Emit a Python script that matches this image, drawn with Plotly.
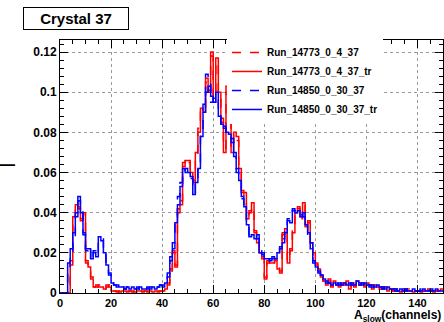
import plotly.graph_objects as go

# bin lower edges 0..149, width 1 channel
bin_edges = list(range(0, 151))

run_14773_0_4_37 = [
    0, 0, 0, 0, 0.014, 0.036, 0.045, 0.042, 0.037, 0.039,
    0.016, 0.012, 0.008, 0.003, 0.003, 0.004, 0.003, 0.002, 0.003, 0.004,
    0.001, 0.001, 0.0005, 0.001, 0.001, 0.0005, 0.001, 0.001, 0.0005, 0.001,
    0.001, 0.0005, 0.001, 0.001, 0.0005, 0.001, 0.001, 0.001, 0.0005, 0.001,
    0.001, 0.002, 0.005, 0.011, 0.021, 0.014, 0.04, 0.046, 0.063, 0.067,
    0.065, 0.061, 0.056, 0.069, 0.082, 0.09, 0.092, 0.105, 0.101, 0.118,
    0.097, 0.115, 0.098, 0.087, 0.072, 0.1, 0.095, 0.072, 0.079, 0.076,
    0.064, 0.051, 0.048, 0.038, 0.041, 0.043, 0.031, 0.026, 0.019, 0.017,
    0.008, 0.015, 0.016, 0.014, 0.017, 0.013, 0.011, 0.029, 0.031, 0.016,
    0.021, 0.031, 0.039, 0.043, 0.037, 0.044, 0.034, 0.035, 0.026, 0.019,
    0.015, 0.011, 0.009, 0.005, 0.005, 0.006, 0.004, 0.005, 0.004, 0.004,
    0.004, 0.005, 0.005, 0.003, 0.004, 0.004, 0.005, 0.004, 0.004, 0.004,
    0.004, 0.004, 0.003, 0.003, 0.003, 0.002, 0.003, 0.002, 0.002, 0.002,
    0.001, 0.001, 0.002, 0.001, 0.001, 0.001, 0.002, 0.001, 0.001, 0.001,
    0.001, 0.001, 0.001, 0.002, 0.001, 0.001, 0.001, 0.001, 0.002, 0.001,
]

run_14773_0_4_37_tr = [
    0, 0, 0, 0, 0.016, 0.038, 0.044, 0.043, 0.036, 0.04,
    0.015, 0.013, 0.007, 0.003, 0.004, 0.003, 0.003, 0.002, 0.004, 0.003,
    0.001, 0.001, 0.001, 0.0005, 0.001, 0.001, 0.0005, 0.001, 0.001, 0.0005,
    0.001, 0.001, 0.0005, 0.001, 0.001, 0.001, 0.0005, 0.001, 0.001, 0.001,
    0.001, 0.002, 0.004, 0.012, 0.02, 0.013, 0.042, 0.044, 0.065, 0.066,
    0.066, 0.06, 0.055, 0.07, 0.08, 0.092, 0.09, 0.107, 0.1, 0.12,
    0.095, 0.117, 0.1, 0.085, 0.07, 0.103, 0.093, 0.07, 0.08, 0.078,
    0.062, 0.05, 0.05, 0.037, 0.04, 0.045, 0.03, 0.025, 0.02, 0.018,
    0.007, 0.016, 0.015, 0.015, 0.016, 0.012, 0.01, 0.03, 0.032, 0.015,
    0.022, 0.03, 0.04, 0.042, 0.038, 0.045, 0.033, 0.036, 0.025, 0.02,
    0.014, 0.012, 0.008, 0.006, 0.004, 0.007, 0.003, 0.006, 0.004, 0.003,
    0.005, 0.004, 0.006, 0.002, 0.005, 0.003, 0.006, 0.004, 0.005, 0.003,
    0.005, 0.004, 0.002, 0.004, 0.003, 0.003, 0.002, 0.003, 0.001, 0.002,
    0.001, 0.002, 0.001, 0.0005, 0.001, 0.002, 0.001, 0.001, 0.0005, 0.001,
    0.001, 0.0005, 0.001, 0.001, 0.002, 0.001, 0.0005, 0.001, 0.001, 0.002,
]

run_14850_0_30_37 = [
    0, 0, 0, 0.012, 0.02, 0.028, 0.04, 0.046, 0.042, 0.03,
    0.021, 0.023, 0.016, 0.021, 0.019, 0.027, 0.027, 0.021, 0.013, 0.01,
    0.005, 0.004, 0.003, 0.004, 0.003, 0.002, 0.003, 0.003, 0.002, 0.002,
    0.003, 0.002, 0.002, 0.003, 0.002, 0.003, 0.002, 0.003, 0.003, 0.004,
    0.004, 0.006, 0.01, 0.018, 0.025, 0.038, 0.048, 0.055, 0.06, 0.062,
    0.058, 0.057, 0.05, 0.054, 0.064, 0.08, 0.094, 0.109, 0.105, 0.095,
    0.097, 0.098, 0.09, 0.082, 0.083, 0.079, 0.078, 0.075, 0.068, 0.06,
    0.057, 0.047, 0.042, 0.036, 0.029, 0.028, 0.028, 0.027, 0.021, 0.019,
    0.018, 0.016, 0.017, 0.017, 0.018, 0.019, 0.023, 0.027, 0.032, 0.037,
    0.037, 0.042, 0.041, 0.039, 0.039, 0.038, 0.035, 0.028, 0.022, 0.015,
    0.012, 0.01, 0.009, 0.006, 0.005, 0.005, 0.004, 0.004, 0.005, 0.004,
    0.005, 0.004, 0.004, 0.005, 0.004, 0.005, 0.005, 0.004, 0.005, 0.004,
    0.003, 0.004, 0.003, 0.004, 0.003, 0.003, 0.002, 0.003, 0.002, 0.002,
    0.002, 0.001, 0.002, 0.001, 0.002, 0.001, 0.002, 0.001, 0.001, 0.001,
    0.001, 0.002, 0.001, 0.001, 0.001, 0.002, 0.001, 0.001, 0.001, 0.001,
]

run_14850_0_30_37_tr = [
    0, 0, 0, 0.015, 0.022, 0.03, 0.038, 0.048, 0.04, 0.029,
    0.022, 0.022, 0.017, 0.02, 0.018, 0.028, 0.026, 0.02, 0.014, 0.009,
    0.005, 0.004, 0.004, 0.003, 0.003, 0.002, 0.003, 0.002, 0.003, 0.002,
    0.002, 0.003, 0.002, 0.002, 0.003, 0.002, 0.003, 0.002, 0.003, 0.004,
    0.003, 0.005, 0.008, 0.016, 0.022, 0.035, 0.044, 0.053, 0.062, 0.06,
    0.06, 0.058, 0.049, 0.055, 0.062, 0.078, 0.09, 0.1, 0.103, 0.098,
    0.095, 0.1, 0.088, 0.084, 0.082, 0.08, 0.079, 0.077, 0.07, 0.062,
    0.056, 0.048, 0.043, 0.034, 0.028, 0.029, 0.027, 0.029, 0.02, 0.02,
    0.017, 0.017, 0.016, 0.018, 0.017, 0.02, 0.022, 0.025, 0.03, 0.036,
    0.035, 0.041, 0.04, 0.041, 0.038, 0.04, 0.034, 0.03, 0.025, 0.016,
    0.013, 0.011, 0.009, 0.007, 0.006, 0.005, 0.004, 0.005, 0.004, 0.005,
    0.004, 0.005, 0.004, 0.004, 0.005, 0.004, 0.006, 0.005, 0.004, 0.005,
    0.004, 0.003, 0.004, 0.003, 0.004, 0.003, 0.003, 0.002, 0.003, 0.002,
    0.002, 0.002, 0.001, 0.002, 0.001, 0.002, 0.001, 0.001, 0.002, 0.001,
    0.001, 0.001, 0.002, 0.001, 0.001, 0.001, 0.001, 0.002, 0.001, 0.001,
]

series = [
    ("Run_14773_0_4_37", run_14773_0_4_37, "#ff0000", "dash"),
    ("Run_14773_0_4_37_tr", run_14773_0_4_37_tr, "#ff0000", "solid"),
    ("Run_14850_0_30_37", run_14850_0_30_37, "#0000ff", "dash"),
    ("Run_14850_0_30_37_tr", run_14850_0_30_37_tr, "#0000ff", "solid"),
]

fig = go.Figure()
for name, vals, color, dash in series:
    fig.add_trace(go.Scatter(
        x=bin_edges, y=list(vals) + [vals[-1]],
        mode="lines", line=dict(color=color, width=1.5, dash=dash, shape="hv"),
        name="<b>" + name + "</b>",
    ))

font_family = "Liberation Sans, Arial, sans-serif"
axis_common = dict(
    showline=True, linecolor="black", linewidth=1, mirror="allticks",
    ticks="inside", ticklen=8, tickcolor="black",
    showgrid=True, gridcolor="#9a9a9a", griddash="dot", gridwidth=1,
    zeroline=False,
)

fig.update_xaxes(range=[0, 150], tick0=0, dtick=20,
                 tickfont=dict(family=font_family, size=11, color="black", weight="bold"),
                 minor=dict(ticks="inside", dtick=5, ticklen=4, tickcolor="black", showgrid=False),
                 **axis_common)
fig.update_yaxes(range=[0, 0.126], tick0=0, dtick=0.02,
                 tickfont=dict(family=font_family, size=12, color="black", weight="bold"),
                 minor=dict(ticks="inside", dtick=0.004, ticklen=4, tickcolor="black", showgrid=False),
                 **axis_common)

fig.update_layout(
    width=444, height=322,
    margin=dict(l=60, r=1, t=40, b=29),
    paper_bgcolor="white", plot_bgcolor="white",
    showlegend=True,
    legend=dict(x=0.436, y=1.008, xanchor="left", yanchor="top",
                bgcolor="white", borderwidth=0,
                font=dict(family=font_family, size=10, color="black"),
                tracegroupgap=0),
    annotations=[
        dict(text="<b>Crystal 37</b>", xref="paper", yref="paper",
             x=0.042, y=1.085, xanchor="center", yanchor="middle",
             width=100, height=17,
             showarrow=False, font=dict(family=font_family, size=15, color="black"),
             bordercolor="black", borderwidth=1, borderpad=2, bgcolor="white"),
        dict(text="<b>A<sub>slow</sub>(channels)</b>", xref="paper", yref="paper",
             x=1.0, y=-0.131, xanchor="right", yanchor="bottom",
             showarrow=False, font=dict(family=font_family, size=12, color="black")),
        dict(text="<b>—</b>", xref="paper", yref="paper",
             x=-0.138, y=0.506, xanchor="center", yanchor="middle",
             showarrow=False, font=dict(family=font_family, size=16, color="black")),
    ],
)

fig.write_html("out.html")
